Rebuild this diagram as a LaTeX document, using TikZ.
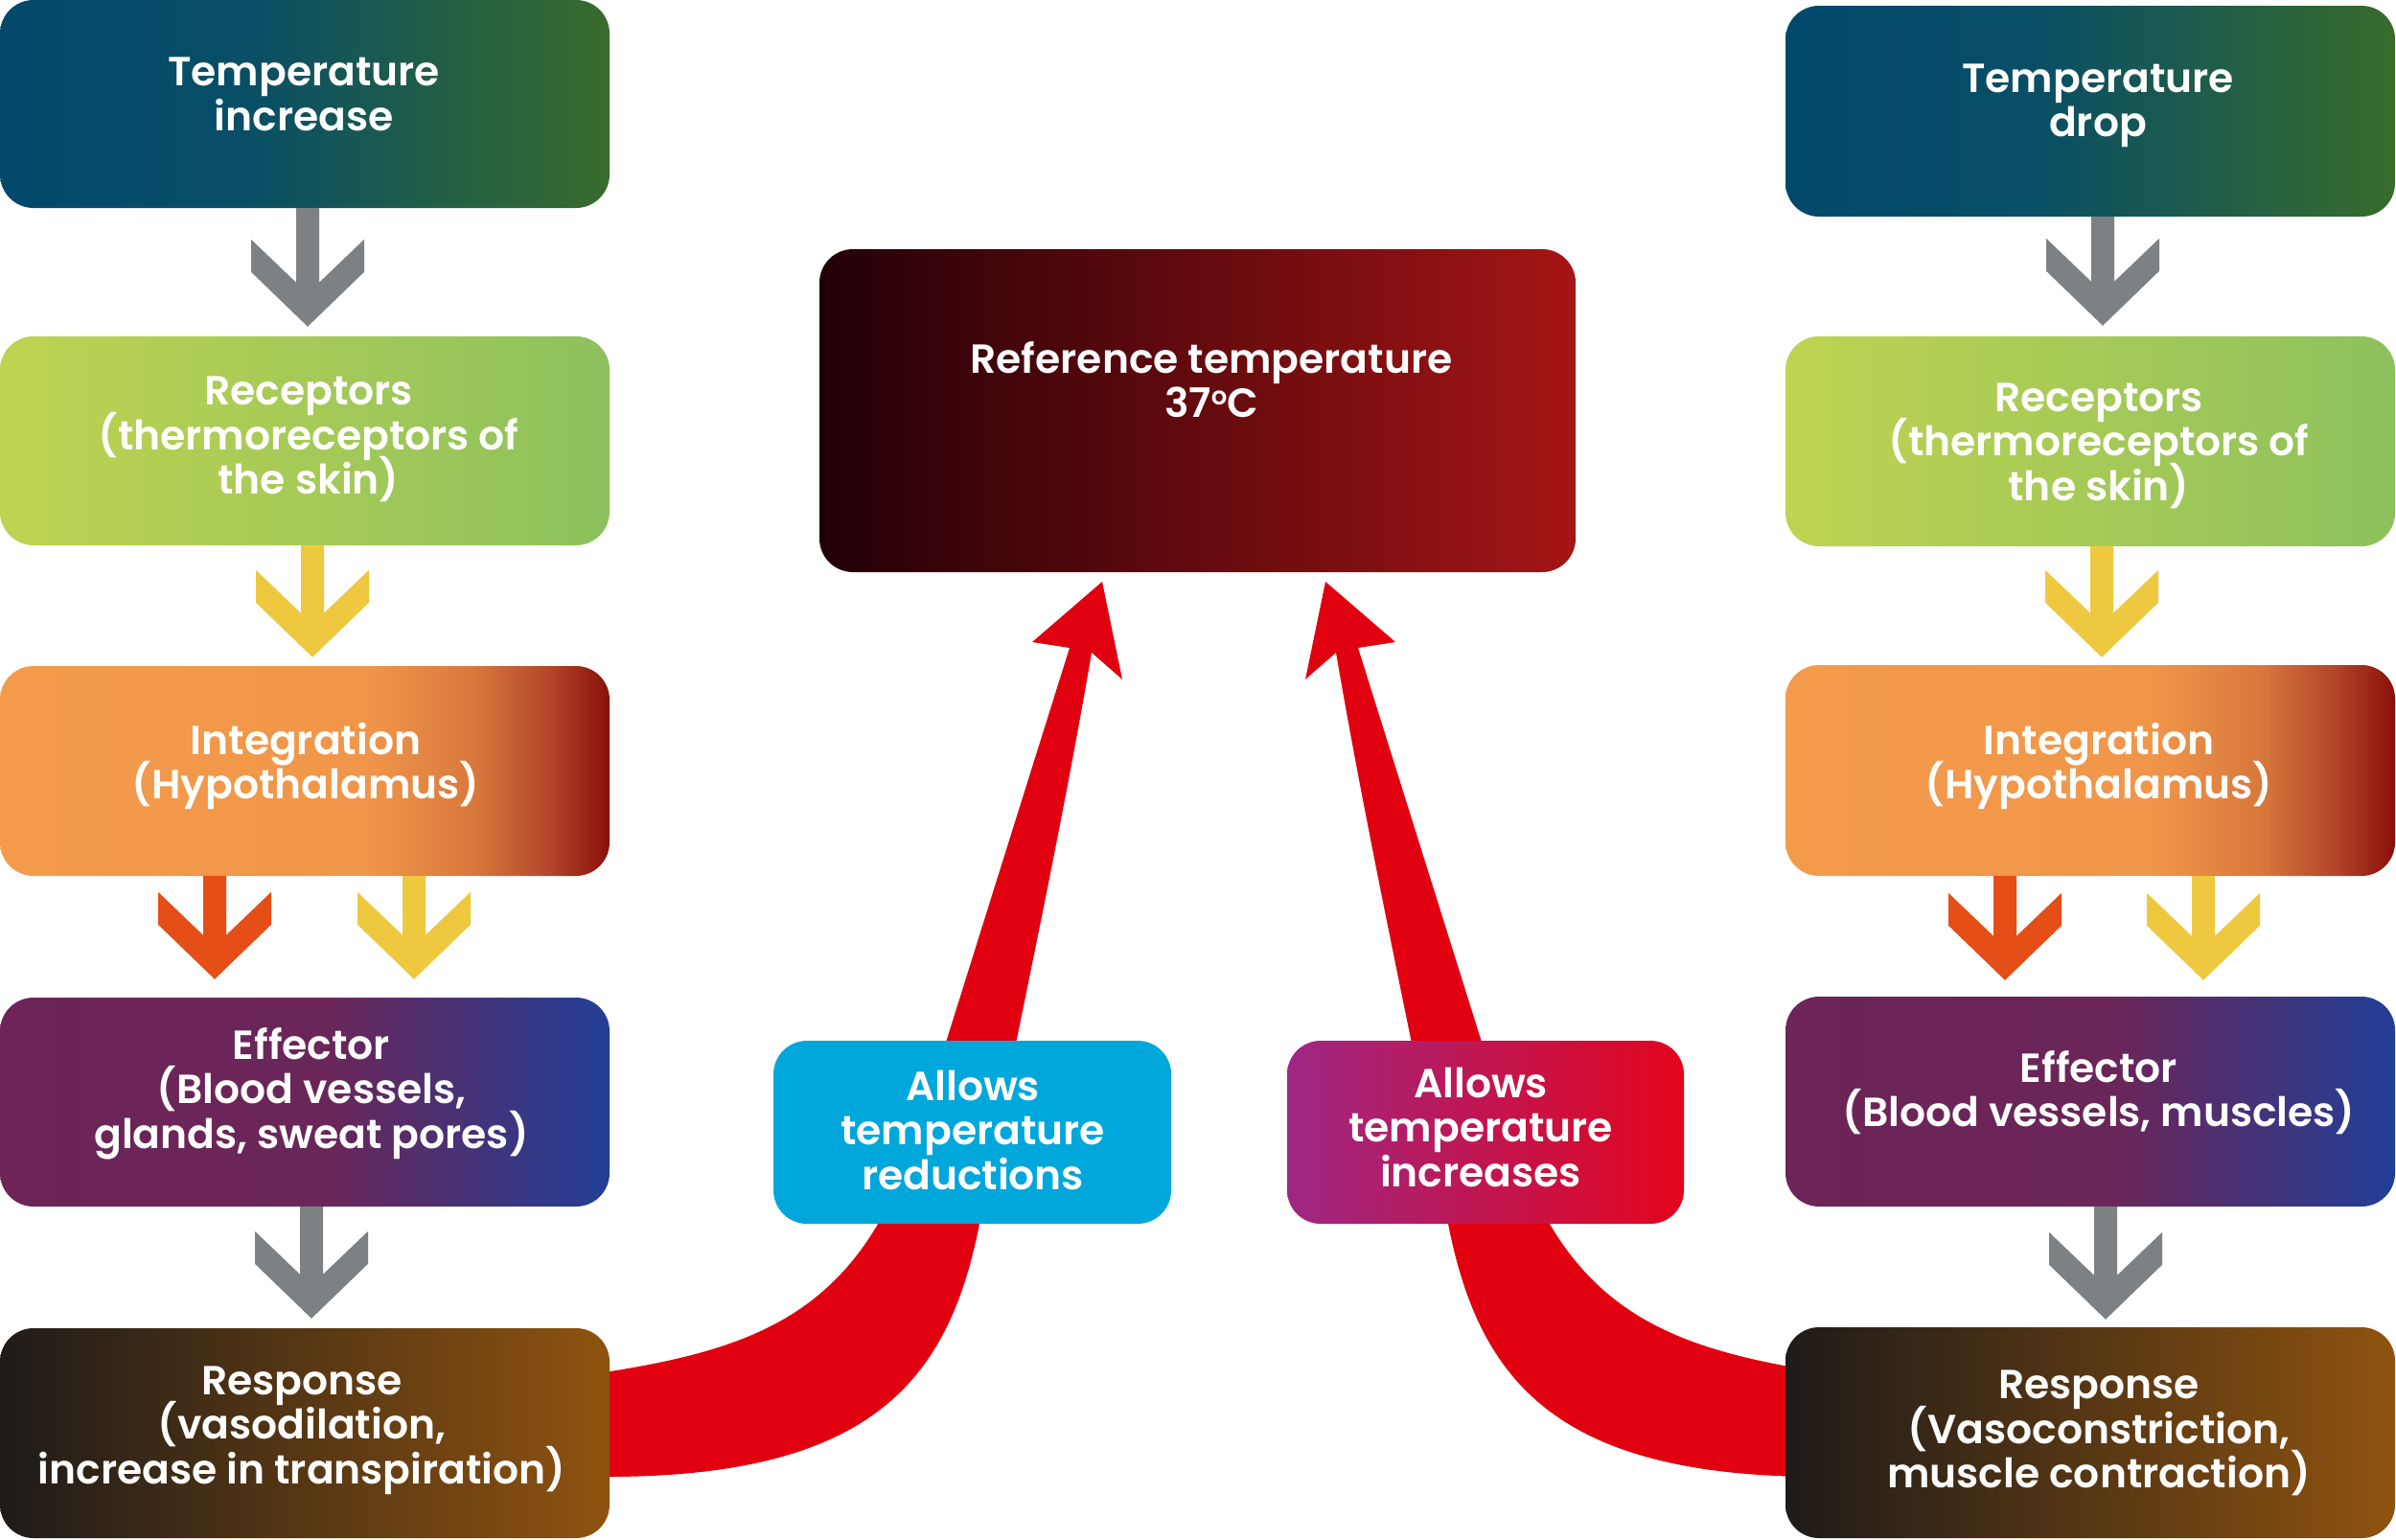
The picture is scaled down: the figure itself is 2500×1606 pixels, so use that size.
\documentclass[tikz,border=0pt]{standalone}
\usepackage{fontspec}
\setmainfont{Poppins SemiBold}
\usetikzlibrary{calc}

\definecolor{cTempA}{HTML}{02496B}
\definecolor{cTempB}{HTML}{084E66}
\definecolor{cTempC}{HTML}{386C2B}
\definecolor{cRecA}{HTML}{BED351}
\definecolor{cRecC}{HTML}{8DC15D}
\definecolor{cIntA}{HTML}{F39B4B}
\definecolor{cIntB}{HTML}{F0964A}
\definecolor{cIntM}{HTML}{D8783C}
\definecolor{cIntN}{HTML}{B4452A}
\definecolor{cIntC}{HTML}{89100A}
\definecolor{cEffA}{HTML}{6D2457}
\definecolor{cEffB}{HTML}{6A2659}
\definecolor{cEffC}{HTML}{213F96}
\definecolor{cResA}{HTML}{1E1B19}
\definecolor{cResC}{HTML}{8F530F}
\definecolor{cRefA}{HTML}{220007}
\definecolor{cRefC}{HTML}{A51515}
\definecolor{cMagA}{HTML}{9E2784}
\definecolor{cMagC}{HTML}{E3051C}
\definecolor{cBlue}{HTML}{00A7DB}
\definecolor{cRibbon}{HTML}{E1000F}
\definecolor{cGray}{HTML}{7E8184}
\definecolor{cYellow}{HTML}{EEC93F}
\definecolor{cOrange}{HTML}{E54E17}

\pgfdeclarehorizontalshading{shTemp}{100bp}{color(0bp)=(cTempA); color(25bp)=(cTempA); color(45bp)=(cTempB); color(75bp)=(cTempC); color(100bp)=(cTempC)}
\pgfdeclarehorizontalshading{shRec}{100bp}{color(0bp)=(cRecA); color(25bp)=(cRecA); color(75bp)=(cRecC); color(100bp)=(cRecC)}
\pgfdeclarehorizontalshading{shInt}{100bp}{color(0bp)=(cIntA); color(25bp)=(cIntA); color(55bp)=(cIntB); color(64bp)=(cIntM); color(70bp)=(cIntN); color(75bp)=(cIntC); color(100bp)=(cIntC)}
\pgfdeclarehorizontalshading{shEff}{100bp}{color(0bp)=(cEffA); color(25bp)=(cEffA); color(52bp)=(cEffB); color(75bp)=(cEffC); color(100bp)=(cEffC)}
\pgfdeclarehorizontalshading{shRes}{100bp}{color(0bp)=(cResA); color(25bp)=(cResA); color(75bp)=(cResC); color(100bp)=(cResC)}
\pgfdeclarehorizontalshading{shRef}{100bp}{color(0bp)=(cRefA); color(25bp)=(cRefA); color(75bp)=(cRefC); color(100bp)=(cRefC)}
\pgfdeclarehorizontalshading{shMag}{100bp}{color(0bp)=(cMagA); color(25bp)=(cMagA); color(75bp)=(cMagC); color(100bp)=(cMagC)}

% chevron connector: #1 source node, #2 target node, #3 x offset, #4 gap above target, #5 colour
\newcommand\chevconn[5]{%
  \fill[#5] let \p1=($(#1.south)+(#3,0)$), \p2=(#2.north) in
    (\x1-12pt,\y1) -- (\x1-12pt,\y2+#4pt+46pt) -- (\x1-59pt,\y2+#4pt+91pt) --
    (\x1-59pt,\y2+#4pt+57pt) -- (\x1,\y2+#4pt) -- (\x1+59pt,\y2+#4pt+57pt) --
    (\x1+59pt,\y2+#4pt+91pt) -- (\x1+12pt,\y2+#4pt+46pt) -- (\x1+12pt,\y1) -- cycle;}

\begin{document}
\setlength{\lineskiplimit}{-100pt}
\setlength{\lineskip}{0pt}
\begin{tikzpicture}[x=1pt, y=-1pt,
  box/.style={rectangle, rounded corners=35pt, inner sep=0pt, shade, draw=none},
  colbox/.style={box, minimum width=636pt},
  txt/.style={text=white, align=center, inner sep=0pt,
    font=\fontsize{42.4}{46.5}\selectfont},
  ribbon/.style={fill=cRibbon}]

\useasboundingbox (0,0) rectangle (2500,1606);

% ribbons (behind everything)
\fill[ribbon] (600,1431) -- (637,1431) .. controls (800,1405) and (900,1363) .. (958,1180)
  -- (1116,676) -- (1077,670) -- (1150,607) -- (1171,709) -- (1139,681)
  .. controls (1105,880) and (1057,1098) .. (1022,1277)
  .. controls (990,1440) and (910,1540) .. (637,1541) -- (600,1541) -- cycle;
\begin{scope}[xshift=2533pt, xscale=-1]
\fill[ribbon] (600,1431) -- (637,1431) .. controls (800,1405) and (900,1363) .. (958,1180)
  -- (1116,676) -- (1077,670) -- (1150,607) -- (1171,709) -- (1139,681)
  .. controls (1105,880) and (1057,1098) .. (1022,1277)
  .. controls (990,1440) and (910,1540) .. (637,1541) -- (600,1541) -- cycle;
\end{scope}

% left column
\node[colbox, minimum height=217pt, shading=shTemp] (L1) at (318,108.5) {};
\node[colbox, minimum height=218pt, shading=shRec]  (L2) at (318,460) {};
\node[colbox, minimum height=219pt, shading=shInt]  (L3) at (318,804.5) {};
\node[colbox, minimum height=218pt, shading=shEff]  (L4) at (318,1150) {};
\node[colbox, minimum height=219pt, shading=shRes]  (L5) at (318,1495.5) {};

% right column
\node[colbox, minimum height=220pt, shading=shTemp] (R1) at (2181,116) {};
\node[colbox, minimum height=219pt, shading=shRec]  (R2) at (2181,460.5) {};
\node[colbox, minimum height=220pt, shading=shInt]  (R3) at (2181,804) {};
\node[colbox, minimum height=219pt, shading=shEff]  (R4) at (2181,1149.5) {};
\node[colbox, minimum height=220pt, shading=shRes]  (R5) at (2181,1495) {};

% centre
\node[box, minimum width=789pt, minimum height=337pt, shading=shRef] (REF) at (1249.5,428.5) {};
\node[rectangle, rounded corners=35pt, inner sep=0pt, fill=cBlue, minimum width=415pt, minimum height=191pt] (BLUE) at (1014.5,1181.5) {};
\node[box, minimum width=414pt, minimum height=191pt, shading=shMag] (MAG) at (1550,1181.5) {};

% texts
\node[txt] (tL1) at (317,98.5) {Temperature\\increase};
\node[txt] (tL2) at (322,458.5) {Receptors\\(thermoreceptors of\\the skin)};
\node[txt] (tL3) at (319,799.5) {Integration\\(Hypothalamus)};
\node[txt] (tL4) at (325,1141) {Effector\\(Blood vessels,\\glands, sweat pores)};
\node[txt] (tL5) at (315,1492.5) {Response\\(vasodilation,\\increase in transpiration)};

\node[txt] (tR1) at (2189,110.5) {Temperature\\drop};
\node[txt] (tR2) at (2190,465) {Receptors\\(thermoreceptors of\\the skin)};
\node[txt] (tR3) at (2190,799.5) {Integration\\(Hypothalamus)};
\node[txt] (tR4) at (2190,1140) {Effector\\(Blood vessels, muscles)};
\node[txt] (tR5) at (2190,1495.5) {Response\\(Vasoconstriction,\\muscle contraction)};

\node[txt] (tREF) at (1264,396) {Reference temperature\\37\raisebox{0.55ex}{\fontsize{26}{26}\selectfont o}C};
\node[txt] (tBLUE) at (1015,1179) {Allows\\temperature\\reductions};
\node[txt] (tMAG) at (1545,1176) {Allows\\temperature\\increases};

% chevron connectors
\chevconn{L1}{L2}{3}{10}{cGray}
\chevconn{L2}{L3}{8}{9}{cYellow}
\chevconn{L3}{L4}{-94}{19}{cOrange}
\chevconn{L3}{L4}{114}{19}{cYellow}
\chevconn{L4}{L5}{7}{10}{cGray}

\chevconn{R1}{R2}{13}{11}{cGray}
\chevconn{R2}{R3}{12}{8}{cYellow}
\chevconn{R3}{R4}{-89}{17}{cOrange}
\chevconn{R3}{R4}{118}{17}{cYellow}
\chevconn{R4}{R5}{16}{8}{cGray}
\end{tikzpicture}
\end{document}
